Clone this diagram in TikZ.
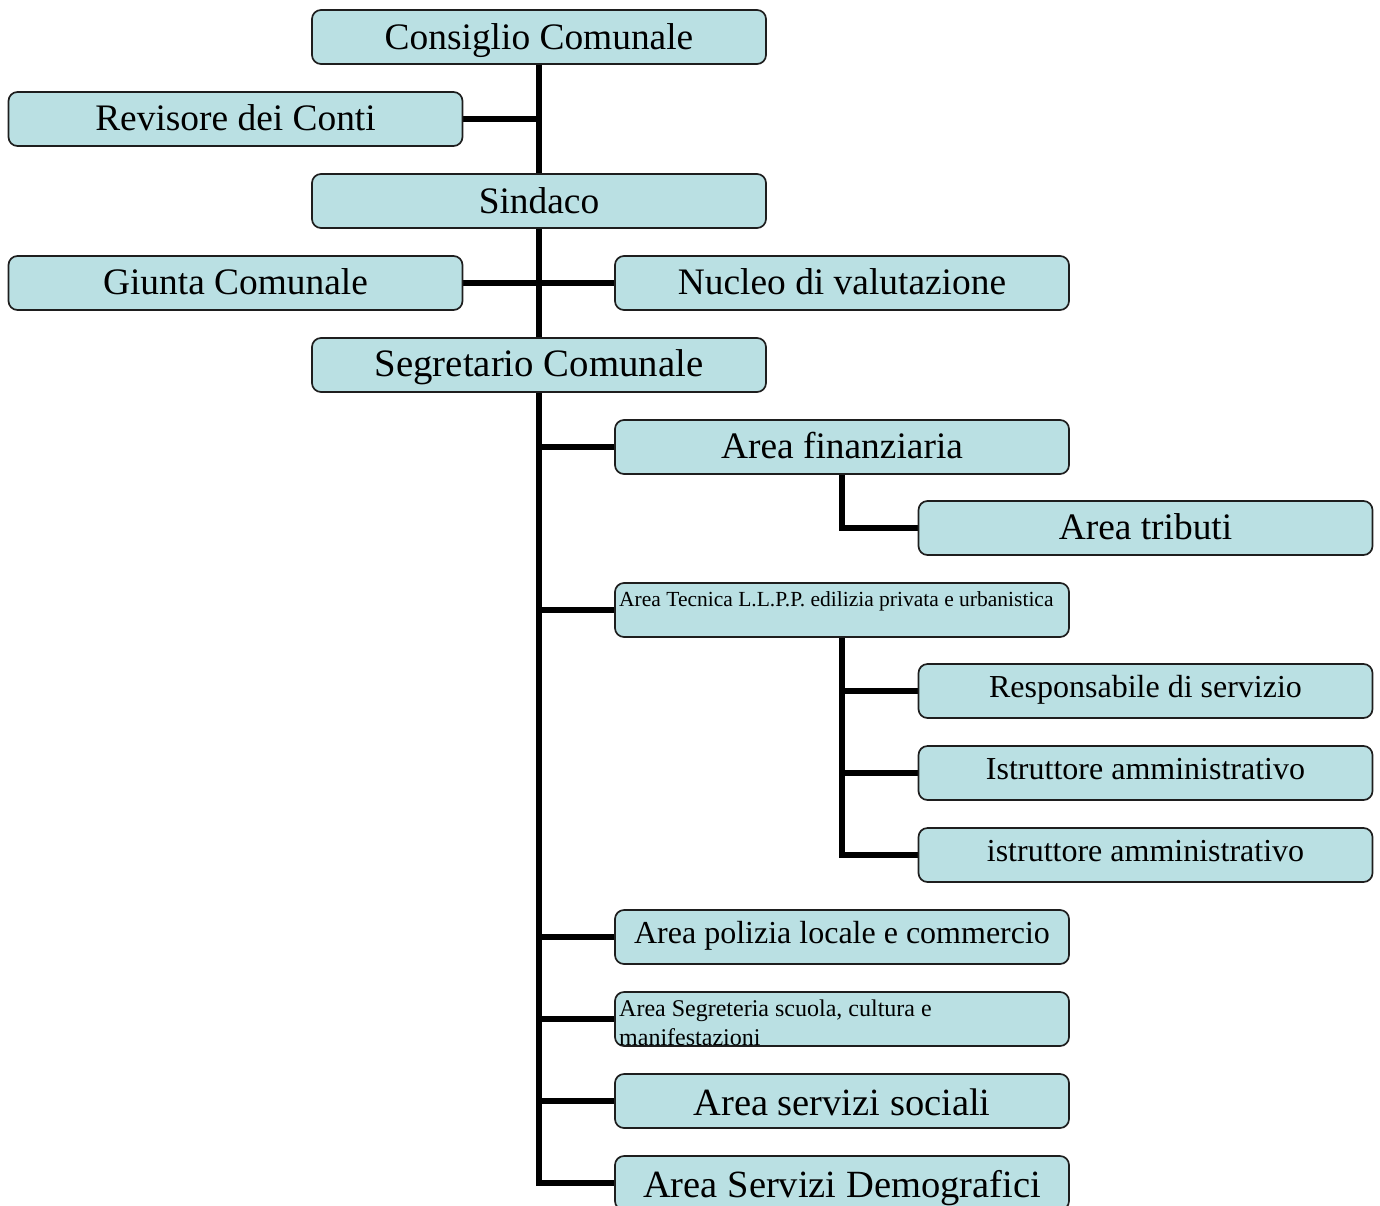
\documentclass[tikz,border=0pt]{standalone}
\usepackage{fontspec}
\setmainfont{Liberation Serif}
\pgfdeclarelayer{bg}
\pgfsetlayers{bg,main}
\definecolor{boxfill}{RGB}{186,224,227}
\definecolor{boxline}{RGB}{30,30,30}
\tikzset{
  orgbox/.style={draw=boxline, line width=1.7pt, fill=boxfill, rounded corners=9pt,
    minimum width=454pt, minimum height=54pt, inner sep=0pt, outer sep=0pt},
  conn/.style={line width=5.5pt, draw=black},
  bigtxt/.style={anchor=base, inner sep=0pt, font=\fontsize{37.4}{40}\selectfont},
  midtxt/.style={anchor=base, inner sep=0pt, font=\fontsize{32}{36}\selectfont},
  lrgtxt/.style={anchor=base, inner sep=0pt, font=\fontsize{38.5}{42}\selectfont},
}
\begin{document}
\begin{tikzpicture}[x=1pt,y=-1pt]
\useasboundingbox (0,0) rectangle (1380,1205);
% boxes
\node[orgbox] (cons) at (539,37) {};
\node[orgbox] (rev)  at (235.5,119) {};
\node[orgbox] (sind) at (539,201) {};
\node[orgbox] (giun) at (235.5,283) {};
\node[orgbox] (nucl) at (842,283) {};
\node[orgbox] (segr) at (539,365) {};
\node[orgbox] (fin)  at (842,447) {};
\node[orgbox] (trib) at (1145.5,528) {};
\node[orgbox] (tec)  at (842,610) {};
\node[orgbox] (resp) at (1145.5,691) {};
\node[orgbox] (ist1) at (1145.5,773) {};
\node[orgbox] (ist2) at (1145.5,855) {};
\node[orgbox] (pol)  at (842,937) {};
\node[orgbox] (sgr)  at (842,1019) {};
\node[orgbox] (soc)  at (842,1101) {};
\node[orgbox] (demo) at (842,1183) {};
% texts
\node[bigtxt] (tcons) at (539,49) {Consiglio Comunale};
\node[bigtxt] (trev)  at (235.5,130) {Revisore dei Conti};
\node[bigtxt] (tsind) at (539,213) {Sindaco};
\node[bigtxt] (tgiun) at (235.5,294) {Giunta Comunale};
\node[bigtxt] (tnucl) at (842,294) {Nucleo di valutazione};
\node[bigtxt, font=\fontsize{38.8}{42}\selectfont] (tsegr) at (539,376) {Segretario Comunale};
\node[bigtxt] (tfin)  at (842,458) {Area finanziaria};
\node[bigtxt] (ttrib) at (1145.5,539) {Area tributi};
\node[anchor=base west, inner sep=0pt, font=\fontsize{21.5}{24}\selectfont] (ttec) at (619,606) {Area Tecnica L.L.P.P. edilizia privata e urbanistica};
\node[midtxt] (tresp) at (1145.5,697) {Responsabile di servizio};
\node[midtxt] (tist1) at (1145.5,779) {Istruttore amministrativo};
\node[midtxt] (tist2) at (1145.5,861) {istruttore amministrativo};
\node[midtxt] (tpol)  at (842,943) {Area polizia locale e commercio};
\begin{scope}
  \clip (sgr.north west) rectangle ([yshift=0.8pt]sgr.south east);
  \node[anchor=base west, inner sep=0pt, font=\fontsize{24}{28}\selectfont] (tsgr1) at (619,1016) {Area Segreteria scuola, cultura e};
  \node[anchor=base west, inner sep=0pt, font=\fontsize{24}{28}\selectfont] (tsgr2) at (619,1045) {manifestazioni};
\end{scope}
\node[lrgtxt] (tsoc)  at (842,1115) {Area servizi sociali};
\node[lrgtxt] (tdemo) at (842,1197) {Area Servizi Demografici};
% connectors
\begin{pgfonlayer}{bg}
\draw[conn] (cons.south) -- (sind.north);
\draw[conn] (sind.south) -- (segr.north);
\draw[conn] (cons.south |- rev.east) -- (rev.east);
\draw[conn] (giun.east) -- (nucl.west);
\draw[conn] (segr.south) -- (segr.south |- demo.west) -- (demo.west);
\draw[conn] (segr.south |- fin.west) -- (fin.west);
\draw[conn] (segr.south |- tec.west) -- (tec.west);
\draw[conn] (segr.south |- pol.west) -- (pol.west);
\draw[conn] (segr.south |- sgr.west) -- (sgr.west);
\draw[conn] (segr.south |- soc.west) -- (soc.west);
\draw[conn] (fin.south) -- (fin.south |- trib.west) -- (trib.west);
\draw[conn] (tec.south) -- (tec.south |- ist2.west) -- (ist2.west);
\draw[conn] (tec.south |- resp.west) -- (resp.west);
\draw[conn] (tec.south |- ist1.west) -- (ist1.west);
\end{pgfonlayer}
\end{tikzpicture}
\end{document}
